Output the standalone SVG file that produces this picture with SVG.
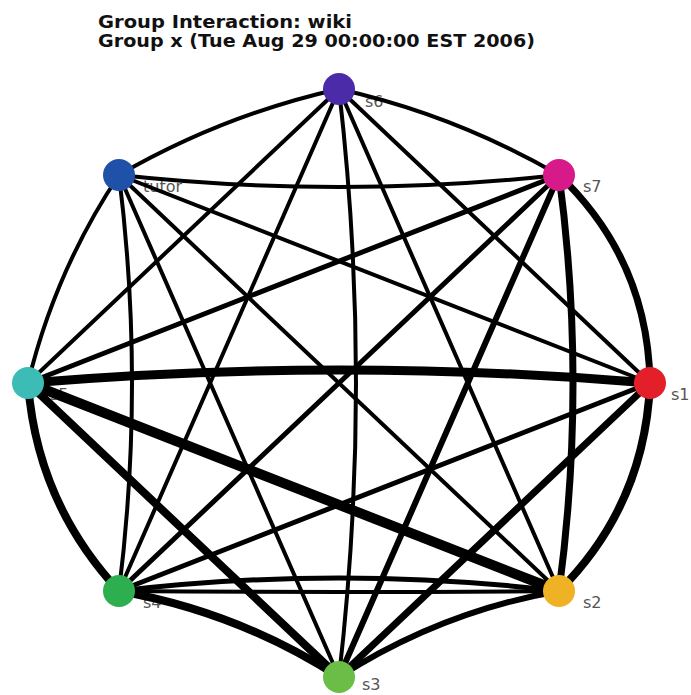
<svg xmlns="http://www.w3.org/2000/svg" width="691" height="695" viewBox="0 0 691 695">
  <style>
    .title { font-family: "DejaVu Sans", "Liberation Sans", sans-serif; font-weight: bold; font-size: 17.5px; fill: #111; }
    .label { font-family: "DejaVu Sans", "Liberation Sans", sans-serif; font-size: 16px; fill: #555; }
    .edge { fill: none; stroke: #000; stroke-linecap: round; }
    .w4 { stroke-width: 4; }
    .w5 { stroke-width: 5; }
    .w6 { stroke-width: 6; }
    .w7 { stroke-width: 7; }
    .w8 { stroke-width: 8; }
    .w9 { stroke-width: 9; }
    .w10 { stroke-width: 10; }
  </style>
  <rect width="691" height="695" fill="#fff"/>

  <g id="title">
    <text class="title" x="98" y="28" textLength="254" lengthAdjust="spacingAndGlyphs">Group Interaction: wiki</text>
    <text class="title" x="98" y="47" textLength="437" lengthAdjust="spacingAndGlyphs">Group x (Tue Aug 29 00:00:00 EST 2006)</text>
  </g>

  <!-- node labels sit beneath the edges -->
  <g id="node-labels">
    <text class="label" x="365" y="107">s6</text>
    <text class="label" x="583" y="192">s7</text>
    <text class="label" x="671" y="400">s1</text>
    <text class="label" x="583" y="608">s2</text>
    <text class="label" x="362" y="690">s3</text>
    <text class="label" x="143" y="608">s4</text>
    <text class="label" x="50" y="400">s5</text>
    <text class="label" x="143" y="192">tutor</text>
  </g>

  <g id="connectors">
    <!-- neighbours on the ring -->
    <path class="edge w4" d="M339,89 Q455,115 559,175"/>
    <path class="edge w4" d="M119,175 Q223,115 339,89"/>
    <path class="edge w7" d="M559,175 Q648,260 650,383"/>
    <path class="edge w8" d="M650,383 Q645,505 559,591"/>
    <path class="edge w6" d="M559,591 Q440,612 339,677"/>
    <path class="edge w8" d="M339,677 Q238,612 119,591"/>
    <path class="edge w8" d="M119,591 Q37,503 28,383"/>
    <path class="edge w4" d="M28,383 Q55,271 119,175"/>
    <!-- two steps apart -->
    <path class="edge w4" d="M339,89 Q494,236 650,383"/>
    <path class="edge w7" d="M559,175 Q587,383 559,591"/>
    <path class="edge w7" d="M650,383 Q494,530 339,677"/>
    <path class="edge w5" d="M119,591 Q339,565 559,591"/>
    <path class="edge w4" d="M119,591 Q339,593 559,591"/>
    <path class="edge w8" d="M339,677 Q183,530 28,383"/>
    <path class="edge w4" d="M119,591 Q145,383 119,175"/>
    <path class="edge w4" d="M28,383 Q183,236 339,89"/>
    <path class="edge w4" d="M119,175 Q339,199 559,175"/>
    <!-- three steps apart -->
    <path class="edge w4" d="M339,89 Q449,340 559,591"/>
    <path class="edge w6" d="M559,175 Q449,426 339,677"/>
    <path class="edge w5" d="M650,383 Q384,487 119,591"/>
    <path class="edge w10" d="M559,591 Q293,487 28,383"/>
    <path class="edge w4" d="M339,677 Q229,426 119,175"/>
    <path class="edge w4" d="M119,591 Q229,340 339,89"/>
    <path class="edge w5" d="M28,383 Q293,279 559,175"/>
    <path class="edge w4" d="M119,175 Q384,279 650,383"/>
    <!-- across the ring -->
    <path class="edge w4" d="M339,89 Q373,383 339,677"/>
    <path class="edge w5" d="M559,175 Q339,383 119,591"/>
    <path class="edge w9" d="M650,383 Q339,357 28,383"/>
    <path class="edge w4" d="M559,591 Q339,383 119,175"/>
  </g>

  <g id="s6" class="node"><circle cx="339" cy="89" r="16" fill="#4b2ba8"/></g>
  <g id="s7" class="node"><circle cx="559" cy="175" r="16" fill="#d7198a"/></g>
  <g id="s1" class="node"><circle cx="650" cy="383" r="16" fill="#e3202a"/></g>
  <g id="s2" class="node"><circle cx="559" cy="591" r="16" fill="#efb225"/></g>
  <g id="s3" class="node"><circle cx="339" cy="677" r="16" fill="#6bbe45"/></g>
  <g id="s4" class="node"><circle cx="119" cy="591" r="16" fill="#2eaf4f"/></g>
  <g id="s5" class="node"><circle cx="28" cy="383" r="16" fill="#3cbcb5"/></g>
  <g id="tutor" class="node"><circle cx="119" cy="175" r="16" fill="#2051a8"/></g>
</svg>
